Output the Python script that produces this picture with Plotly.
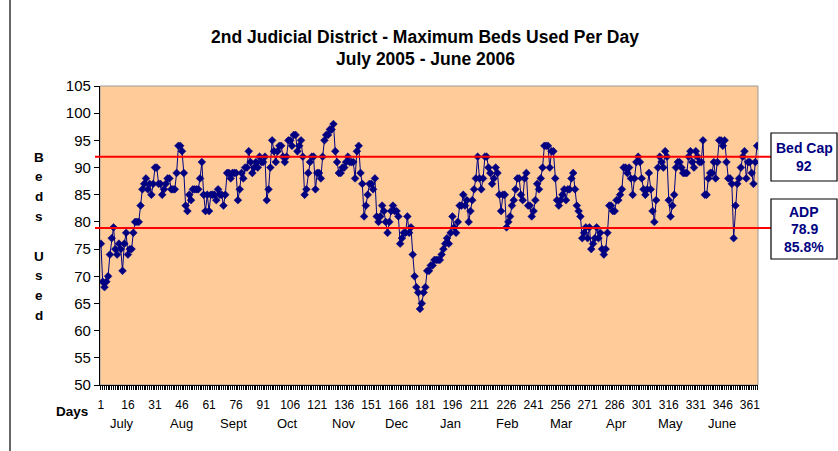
import plotly.graph_objects as go

# ---- data ----
july = [76,69,68,69,70,74,77,79,75,74, 76,75,71,76,78,74,75,75,78,80, 80,80,83,86,87,88,86,87,85,87, 90]
aug  = [90,87,87,85,86,87,88,88,86,86, 86,89,94,94,93,89,83,82,85,84, 86,86,86,86,88,91,85,82,85,82, 85]
sept = [85,85,84,86,85,85,83,85,89,89, 88,89,89,89,84,86,89,88,90,90, 93,91,89,90,91,90,92,91,91,92]
octo = [84,86,90,95,93,91,93,94,94,92, 91,92,95,95,94,96,96,93,94,95, 92,85,86,89,91,92,92,86,89,89, 88]
nov  = [92,95,96,96,97,97,98,93,91,89, 89,90,90,91,92,91,91,91,88,93, 94,89,87,81,83,85,87,87,86,88]
dec  = [81,80,81,83,82,80,78,80,82,83, 82,82,81,76,77,78,78,81,78,79, 74,70,68,67,64,65,67,68,71,71, 72]
jan  = [72,73,73,73,73,74,75,76,77,76, 78,81,79,78,80,83,83,85,83,84, 80,82,84,86,88,92,88,86,88,92, 92]
feb  = [90,89,87,88,90,89,85,82,85,85, 79,80,81,83,84,86,88,88,85,84, 88,89,83,83,81,82,84,87]
mar  = [86,88,90,94,94,94,90,93,93,88, 84,83,84,85,86,84,86,86,88,89, 86,83,82,81,77,78,79,77,79,75, 76]
apr  = [77,79,77,78,75,74,75,78,83,83, 82,82,84,84,85,86,90,90,89,90, 88,85,88,91,92,91,88,86,85,86]
may  = [89,86,82,80,84,90,92,91,90,93, 92,84,81,83,85,90,91,91,90,89, 89,89,92,93,91,90,93,92,91,91, 95]
jun  = [85,85,88,89,89,91,88,91,95,95, 94,95,91,88,88,87,77,83,87,88, 90,92,93,88,91,91,89,87,91,94]

beds = july + aug + sept + octo + nov + dec + jan + feb + mar + apr + may + jun
days = list(range(1, len(beds) + 1))

bed_cap = 92
adp = 78.9
adp_pct = "85.8%"

x_tick_vals = list(range(1, 362, 15))
month_names = ["July", "Aug", "Sept", "Oct", "Nov", "Dec", "Jan", "Feb", "Mar", "Apr", "May", "June"]
month_label_px = [122, 181, 233, 287, 344, 397, 450, 507, 561, 616, 670, 722]

title_line1 = "2nd Judicial District - Maximum Beds Used Per Day"
title_line2 = "July 2005 - June 2006"

# ---- layout geometry (pixels) ----
W, H = 838, 451
L, R, T, B = 100, 758, 86, 385
PW, PH = R - L, B - T
XMIN, XMAX = 0.5, 365.5

def px_to_day(px):
    return XMIN + (px - L) / PW * (XMAX - XMIN)

def pxx(px):
    return (px - L) / PW

def pxy(py):
    return (B - py) / PH

NAVY = "#000080"
FONT = "Liberation Sans, Arial, sans-serif"

fig = go.Figure()
fig.add_trace(go.Scatter(
    x=days, y=beds, mode="lines+markers",
    line=dict(color=NAVY, width=1),
    marker=dict(symbol="diamond", size=6, color=NAVY, line=dict(color=NAVY, width=0.5)),
    hoverinfo="x+y", showlegend=False,
))

shapes = []
# plot area border (gray top/right)
shapes.append(dict(type="rect", xref="paper", yref="paper", x0=0, x1=1, y0=0, y1=1,
                   line=dict(color="#999999", width=1), layer="below"))
# reference lines extending to the boxes
for val in (bed_cap, adp):
    shapes.append(dict(type="line", xref="paper", yref="y", x0=pxx(95), x1=pxx(771),
                       y0=val, y1=val, line=dict(color="#FF0000", width=2)))
# annotation boxes
shapes.append(dict(type="rect", xref="paper", yref="paper",
                   x0=pxx(771), x1=pxx(837), y0=pxy(181), y1=pxy(133),
                   line=dict(color="#000000", width=1.2), fillcolor="white"))
shapes.append(dict(type="rect", xref="paper", yref="paper",
                   x0=pxx(771), x1=pxx(837), y0=pxy(259), y1=pxy(199),
                   line=dict(color="#000000", width=1.2), fillcolor="white"))
# outer chart frame (left edge visible)
shapes.append(dict(type="line", xref="paper", yref="paper", x0=pxx(10), x1=pxx(10),
                   y0=pxy(H + 5), y1=pxy(-5), line=dict(color="#000000", width=1.2)))

annotations = []
box_cx = pxx(804)
for txt, py in (("Bed Cap", 148), (str(bed_cap), 166),
                ("ADP", 212), (f"{adp}", 229), (adp_pct, 247)):
    annotations.append(dict(text=f"<b>{txt}</b>", xref="paper", yref="paper",
                            x=box_cx, y=pxy(py), showarrow=False,
                            xanchor="center", yanchor="middle",
                            font=dict(family=FONT, size=14, color=NAVY)))
# title
annotations.append(dict(text=f"<b>{title_line1}</b>", xref="paper", yref="paper",
                        x=pxx(425), y=pxy(37), showarrow=False, xanchor="center", yanchor="middle",
                        font=dict(family=FONT, size=17.5, color="black")))
annotations.append(dict(text=f"<b>{title_line2}</b>", xref="paper", yref="paper",
                        x=pxx(425), y=pxy(59), showarrow=False, xanchor="center", yanchor="middle",
                        font=dict(family=FONT, size=17.5, color="black")))
# y axis title as stacked letters
ylabel_letters = ["B", "e", "d", "s", "", "U", "s", "e", "d"]
for i, ch in enumerate(ylabel_letters):
    if ch:
        annotations.append(dict(text=f"<b>{ch}</b>", xref="paper", yref="paper",
                                x=pxx(39), y=pxy(157 + i * 19.8), showarrow=False,
                                xanchor="center", yanchor="middle",
                                font=dict(family=FONT, size=13.5, color="black")))
# "Days"
annotations.append(dict(text="<b>Days</b>", xref="paper", yref="paper",
                        x=pxx(72), y=pxy(411), showarrow=False, xanchor="center", yanchor="middle",
                        font=dict(family=FONT, size=13.5, color="black")))
# month labels
for name, px in zip(month_names, month_label_px):
    annotations.append(dict(text=name, xref="x", yref="paper",
                            x=px_to_day(px), y=pxy(423), showarrow=False,
                            xanchor="center", yanchor="middle",
                            font=dict(family=FONT, size=13, color="black")))

fig.update_layout(
    width=W, height=H,
    margin=dict(l=L, r=W - R, t=T, b=H - B, pad=0),
    paper_bgcolor="white", plot_bgcolor="#FFCC99",
    font=dict(family=FONT, color="black"),
    shapes=shapes, annotations=annotations,
    showlegend=False,
)
fig.update_xaxes(
    range=[XMIN, XMAX], tickmode="array", tickvals=x_tick_vals,
    ticktext=[str(v) for v in x_tick_vals],
    ticks="outside", ticklen=4, tickcolor="black", tickwidth=1,
    ticklabelstandoff=4,
    minor=dict(tickmode="linear", tick0=1, dtick=1, ticks="outside", ticklen=4,
               tickcolor="black", tickwidth=1, showgrid=False),
    showline=True, linecolor="black", linewidth=1.2,
    showgrid=False, zeroline=False,
    tickfont=dict(family=FONT, size=12, color="black"),
)
fig.update_yaxes(
    range=[50, 105], dtick=5, tick0=50,
    ticks="outside", ticklen=5, tickcolor="black",
    showline=True, linecolor="black", linewidth=1.2,
    showgrid=False, zeroline=False,
    tickfont=dict(family=FONT, size=15, color="black"),
)

fig.write_html(
    "out.html",
    config={"displayModeBar": False},
    post_script="document.body.style.margin='0';document.body.style.padding='0';",
)
